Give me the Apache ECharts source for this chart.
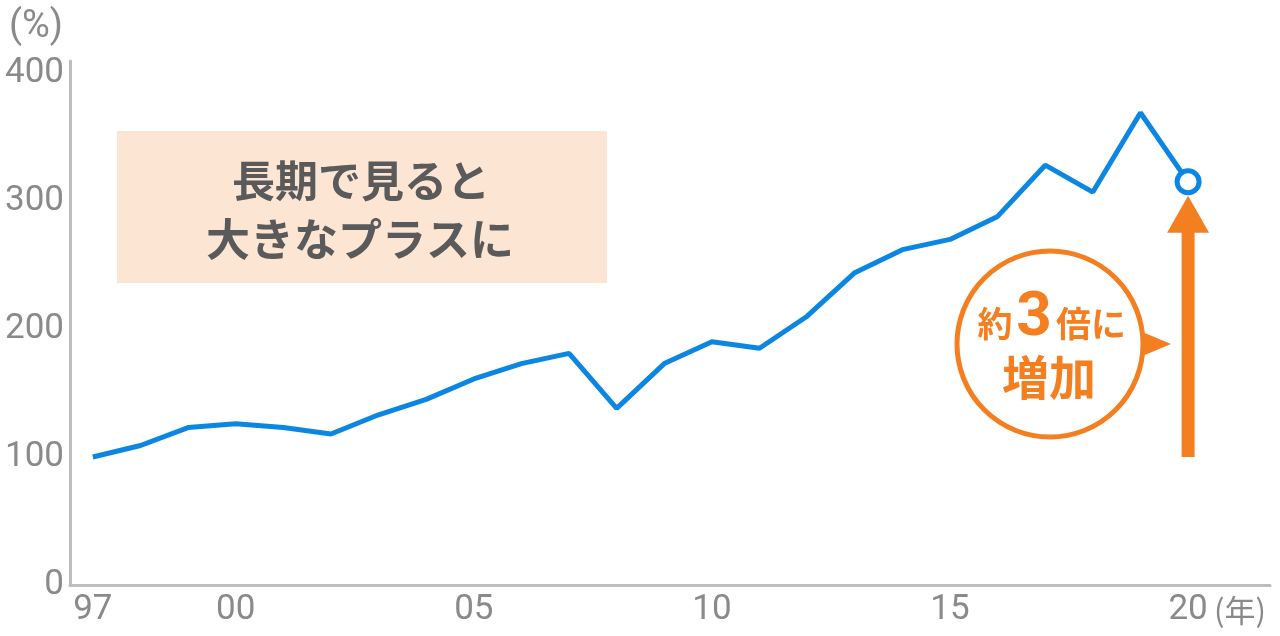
<!DOCTYPE html>
<html>
<head>
<meta charset="utf-8">
<script src="https://cdn.jsdelivr.net/npm/echarts@6/dist/echarts.min.js"></script>
<style>
html,body{margin:0;padding:0;background:#fff;}
#chart{width:1280px;height:636px;}
</style>
</head>
<body>
<div id="chart"></div>
<script>
var years = [1997,1998,1999,2000,2001,2002,2003,2004,2005,2006,2007,2008,2009,2010,2011,2012,2013,2014,2015,2016,2017,2018,2019,2020];
var values = [100,109,123,126,123,118,133,145,161,173,181,138,173,190,185,210,244,262,270,288,328,307,369,315];
var xTickYears = [1997,2000,2005,2010,2015,2020];
var yTickValues = [0,100,200,300,400];

var BLUE = '#0B86E2';
var ORANGE = '#F47F20';
var GRAY = '#8a8a8a';

var chart = echarts.init(document.getElementById('chart'));

var seriesData = years.map(function (y, i) {
  var item = { value: [y, values[i]] };
  if (i === years.length - 1) {
    item.symbol = 'circle';
    item.symbolSize = 22;
    item.itemStyle = { color: '#fff', borderColor: BLUE, borderWidth: 5 };
  }
  return item;
});

chart.setOption({
  animation: false,
  grid: { left: 70, right: 10, top: 61, bottom: 51, containLabel: false },
  xAxis: {
    type: 'value',
    min: 1996.52,
    max: 2021.72,
    axisLine: { show: true, lineStyle: { color: '#bdbdbd', width: 3 } },
    axisTick: { show: false },
    splitLine: { show: false },
    axisLabel: {
      customValues: xTickYears,
      formatter: function (v) { return String(v).slice(2); },
      color: GRAY,
      fontSize: 35,
      fontFamily: 'Roboto',
      margin: 8
    }
  },
  yAxis: {
    type: 'value',
    min: 0,
    max: 409.4,
    axisLine: { show: true, lineStyle: { color: '#bdbdbd', width: 3 } },
    axisTick: { show: false },
    splitLine: { show: false },
    axisLabel: {
      customValues: yTickValues,
      color: GRAY,
      fontSize: 35,
      fontFamily: 'Roboto',
      margin: 6
    }
  },
  series: [{
    type: 'line',
    data: seriesData,
    symbol: 'none',
    showSymbol: true,
    lineStyle: { color: BLUE, width: 5 },
    itemStyle: { color: BLUE },
    z: 5
  }]
});

var last = years.length - 1;
var pBase = chart.convertToPixel({ gridIndex: 0 }, [years[last], 100]);
var pTop = chart.convertToPixel({ gridIndex: 0 }, [years[last], values[last]]);
var ax = pBase[0];
var tipY = pTop[1] + 14;
var headY = tipY + 37;

chart.setOption({
  graphic: [
    { type: 'text', x: 9, y: 27, style: { text: '(%)', fill: GRAY, font: '38px Roboto', verticalAlign: 'middle' } },
    { type: 'text', x: 1214, y: 610, style: { text: '(年)', fill: GRAY, font: '31px "Noto Sans CJK JP"', verticalAlign: 'middle' } },
    { type: 'rect', shape: { x: 117, y: 131, width: 490, height: 152 }, style: { fill: '#FDE5D4' }, z: 1 },
    { type: 'text', x: 361, y: 181, style: { text: '長期で見ると', fill: '#5a5a5a', font: 'bold 43px "Noto Sans CJK JP"', align: 'center', verticalAlign: 'middle' }, z: 2 },
    { type: 'text', x: 360, y: 239, style: { text: '大きなプラスに', fill: '#5a5a5a', font: 'bold 44px "Noto Sans CJK JP"', align: 'center', verticalAlign: 'middle' }, z: 2 },
    { type: 'rect', shape: { x: ax - 6.5, y: headY - 1, width: 13, height: pBase[1] - headY + 1 }, style: { fill: ORANGE }, z: 3 },
    { type: 'polygon', shape: { points: [[ax - 21, headY], [ax + 21, headY], [ax, tipY]] }, style: { fill: ORANGE }, z: 3 },
    { type: 'polygon', shape: { points: [[1140, 331], [1171, 344], [1140, 357]] }, style: { fill: ORANGE }, z: 3 },
    { type: 'circle', shape: { cx: 1050, cy: 344, r: 93 }, style: { fill: '#fff', stroke: ORANGE, lineWidth: 5 }, z: 4 },
    { type: 'text', x: 995, y: 324, z: 5, style: { text: '約', fill: ORANGE, font: 'bold 35px "Noto Sans CJK JP"', align: 'center', verticalAlign: 'middle' } },
    { type: 'text', x: 1034, y: 319, z: 5, style: { text: '3', fill: ORANGE, font: 'bold 62px Roboto', align: 'center', verticalAlign: 'middle' } },
    { type: 'text', x: 1091, y: 324, z: 5, style: { text: '倍に', fill: ORANGE, font: 'bold 35px "Noto Sans CJK JP"', align: 'center', verticalAlign: 'middle' } },
    { type: 'text', x: 1049, y: 377, z: 5, style: { text: '増加', fill: ORANGE, font: 'bold 47px "Noto Sans CJK JP"', align: 'center', verticalAlign: 'middle' } }
  ]
});
</script>
</body>
</html>
